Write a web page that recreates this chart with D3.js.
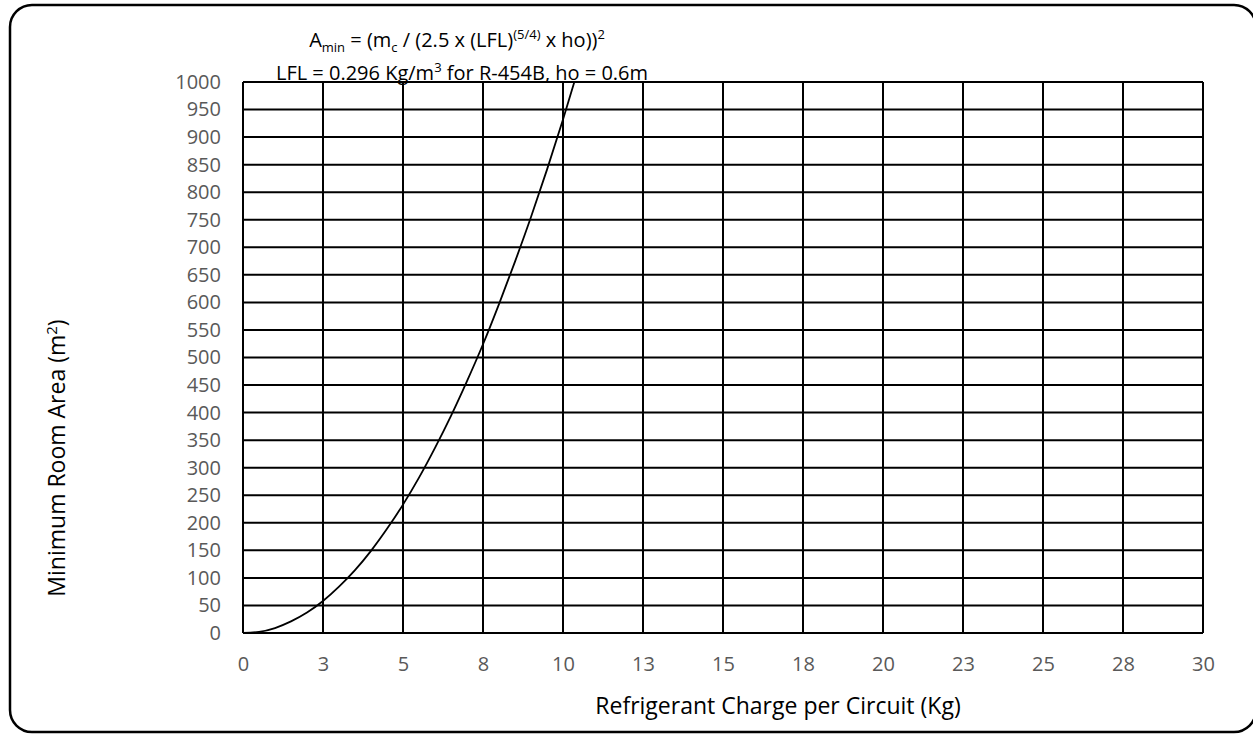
<!DOCTYPE html>
<html>
<head>
<meta charset="utf-8">
<script src="https://cdn.jsdelivr.net/npm/d3@7"></script>
<style>
  body { margin: 0; background: #fff; }
  text { font-family: "Open Sans", sans-serif; }
</style>
</head>
<body>
<div id="chart"></div>
<script>
// Refrigerant charge (kg) vs minimum room area (m2)
const chargeKg = [0, 0.5, 1, 1.5, 2, 2.5, 3, 3.5, 4, 4.5, 5, 5.5, 6, 6.5, 7, 7.5, 8, 8.5, 9, 9.5, 10, 10.5];
const areaM2 = [0, 2, 9, 21, 37, 58, 84, 114, 149, 189, 233, 282, 336, 394, 457, 524, 597, 674, 755, 841, 932, 1028];

const xTicks = [0, 2.5, 5, 7.5, 10, 12.5, 15, 17.5, 20, 22.5, 25, 27.5, 30];
const xTickLabels = ['0', '3', '5', '8', '10', '13', '15', '18', '20', '23', '25', '28', '30'];
const yTicks = d3.range(0, 1001, 50);

const width = 1253;
const height = 734;
const margin = {top: 82, right: 50, bottom: 101, left: 243};
const plotW = width - margin.left - margin.right;
const plotH = height - margin.top - margin.bottom;

const svg = d3.select('#chart')
    .append('svg')
    .attr('width', width)
    .attr('height', height);

// Rounded chart border
svg.append('rect')
    .attr('x', 10)
    .attr('y', 5)
    .attr('width', 1246)
    .attr('height', 727)
    .attr('rx', 22)
    .attr('fill', 'none')
    .attr('stroke', '#000')
    .attr('stroke-width', 2.5);

const g = svg.append('g')
    .attr('transform', `translate(${margin.left},${margin.top})`);

const x = d3.scaleLinear().domain([0, 30]).range([0, plotW]);
const y = d3.scaleLinear().domain([0, 1000]).range([plotH, 0]);

// Grid lines
g.selectAll('.hgrid')
    .data(yTicks)
    .enter().append('line')
    .attr('class', 'hgrid')
    .attr('x1', 0)
    .attr('x2', plotW)
    .attr('y1', d => y(d))
    .attr('y2', d => y(d))
    .attr('stroke', '#000')
    .attr('stroke-width', 2);

g.selectAll('.vgrid')
    .data(xTicks)
    .enter().append('line')
    .attr('class', 'vgrid')
    .attr('y1', 0)
    .attr('y2', plotH)
    .attr('x1', d => x(d))
    .attr('x2', d => x(d))
    .attr('stroke', '#000')
    .attr('stroke-width', 2);

// Axes (labels only, lines come from the grid)
const xAxis = g.append('g')
    .attr('transform', `translate(0,${plotH})`)
    .call(d3.axisBottom(x)
        .tickValues(xTicks)
        .tickFormat((d, i) => xTickLabels[i])
        .tickSize(0)
        .tickPadding(24));
xAxis.select('.domain').remove();
xAxis.selectAll('text')
    .attr('fill', '#595959')
    .style('font-size', '20px')
    .style('font-family', '"Open Sans", sans-serif');

const yAxis = g.append('g')
    .call(d3.axisLeft(y)
        .tickValues(yTicks)
        .tickFormat(d3.format('d'))
        .tickSize(0)
        .tickPadding(22));
yAxis.select('.domain').remove();
yAxis.selectAll('text')
    .attr('fill', '#595959')
    .style('font-size', '20px')
    .style('font-family', '"Open Sans", sans-serif');

// Curve, clipped to the plot area
svg.append('clipPath')
    .attr('id', 'plot-clip')
    .append('rect')
    .attr('width', plotW)
    .attr('height', plotH);

const line = d3.line()
    .x((d, i) => x(chargeKg[i]))
    .y(d => y(d))
    .curve(d3.curveMonotoneX);

g.append('path')
    .datum(areaM2)
    .attr('clip-path', 'url(#plot-clip)')
    .attr('fill', 'none')
    .attr('stroke', '#000')
    .attr('stroke-width', 1.8)
    .attr('d', line);

// Axis titles
svg.append('text')
    .attr('x', 778)
    .attr('y', 714)
    .attr('text-anchor', 'middle')
    .style('font-size', '23px')
    .text('Refrigerant Charge per Circuit (Kg)');

const yTitle = svg.append('text')
    .attr('transform', 'translate(65,458) rotate(-90)')
    .attr('text-anchor', 'middle')
    .style('font-size', '23px');
yTitle.append('tspan').text('Minimum Room Area (m');
yTitle.append('tspan').attr('dy', -8).style('font-size', '15px').text('2');
yTitle.append('tspan').attr('dy', 8).text(')');

// Title (formula)
const t1 = svg.append('text')
    .attr('x', 457)
    .attr('y', 47)
    .attr('text-anchor', 'middle')
    .style('font-size', '20px');
t1.append('tspan').text('A');
t1.append('tspan').attr('dy', 5).style('font-size', '13px').text('min');
t1.append('tspan').attr('dy', -5).text(' = (m');
t1.append('tspan').attr('dy', 5).style('font-size', '13px').text('c');
t1.append('tspan').attr('dy', -5).text(' / (2.5 x (LFL)');
t1.append('tspan').attr('dy', -8).style('font-size', '13px').text('(5/4)');
t1.append('tspan').attr('dy', 8).text(' x ho))');
t1.append('tspan').attr('dy', -8).style('font-size', '13px').text('2');

const t2 = svg.append('text')
    .attr('x', 462)
    .attr('y', 80)
    .attr('text-anchor', 'middle')
    .style('font-size', '20px');
t2.append('tspan').text('LFL = 0.296 Kg/m');
t2.append('tspan').attr('dy', -8).style('font-size', '13px').text('3');
t2.append('tspan').attr('dy', 8).text(' for R-454B, ho = 0.6m');
</script>
</body>
</html>
